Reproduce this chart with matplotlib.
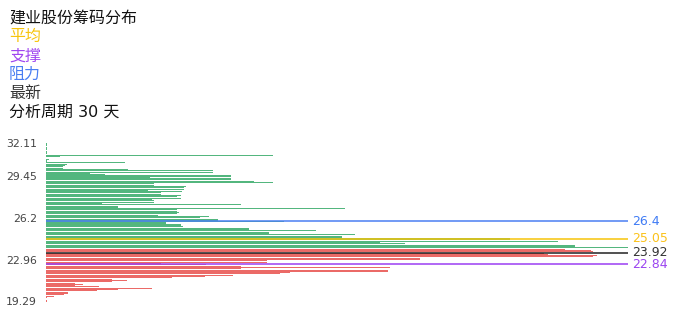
import matplotlib
matplotlib.use("Agg")
import matplotlib.pyplot as plt

# chip volume per price bucket, bottom (19.29) to top (32.11)
volumes = [
    1, 1, 0, 1, 8, 18, 22, 22, 51, 72,
    106, 53, 29, 37, 29, 66, 81, 66, 126, 159,
    187, 234, 244, 342, 342, 195, 344, 195, 160, 115,
    221, 221, 374, 374, 547, 551, 502, 498, 547, 545,
    519, 582, 529, 529, 359, 334, 512, 464, 464, 296,
    296, 309, 223, 223, 270, 203, 203, 137, 135, 135,
    120, 238, 172, 172, 154, 163, 112, 131, 133, 131,
    131, 299, 72, 72, 195, 56, 108, 108, 106, 135,
    131, 135, 115, 115, 136, 102, 138, 138, 140, 108,
    108, 227, 208, 185, 185, 104, 185, 59, 44, 167,
    167, 82, 17, 17, 19, 21, 79, 1, 1, 3,
    0, 14, 227, 1, 1, 1, 1, 1, 1, 1,
    1, 1,
]
# buckets below this row are in profit (drawn red)
profit_rows = 41

tick_rows = [0, 32, 64, 96, 121]
tick_labels = ["19.29", "22.96", "26.2", "29.45", "32.11"]

line_values = [26.4, 25.05, 23.92, 22.84]
line_rows = [61.3, 48.0, 37.3, 28.3]
line_colors = ["#4a7ef2", "#f7c40a", "#222222", "#9b3ff2"]
label_colors = ["#3f7bf5", "#fbc21a", "#333333", "#9b45f0"]

title = "建业股份筹码分布"
legend_items = [("平均", "#f7c40a"), ("支撑", "#a046f0"), ("阻力", "#4a7ef2"), ("最新", "#333333")]
period_text = "分析周期 30 天"

cjk = ["DejaVu Sans", "Noto Sans CJK SC"]

fig = plt.figure(figsize=(6.96, 3.2), dpi=100)
ax = fig.add_axes([46 / 696, 18.0 / 320, 582 / 696, 159.3 / 320])

rows = range(len(volumes))
colors = ["#e8504c" if i < profit_rows else "#35aa67" for i in rows]
ax.barh(list(rows), volumes, height=0.78, color=colors, alpha=0.85, linewidth=0)

for val, row, lc, tc in zip(line_values, line_rows, line_colors, label_colors):
    ax.axhline(row, color=lc, linewidth=1.1, zorder=3)
    ax.text(1.007, row, f"{val:g}", transform=ax.get_yaxis_transform(),
            ha="left", va="center", fontsize=9, color=tc)

ax.set_xlim(0, max(volumes))
ax.set_ylim(-0.5, len(volumes) - 0.5)
ax.set_yticks(tick_rows)
ax.set_yticklabels(tick_labels)
ax.tick_params(axis="y", length=0, pad=6.5, labelsize=7.8, labelcolor="#444444")
ax.set_xticks([])
for s in ax.spines.values():
    s.set_visible(False)

fig.text(9 / 696, 1 - 18 / 320, title, family=cjk, fontsize=11.5, color="#111111", va="center")
for k, (name, col) in enumerate(legend_items):
    fig.text(9 / 696, 1 - (36.8 + 18.9 * k) / 320, name, family=cjk, fontsize=11.5, color=col, va="center")
fig.text(9 / 696, 1 - 112.5 / 320, period_text, family=cjk, fontsize=11.5, color="#111111", va="center")

fig.savefig("out.png", dpi=100)
